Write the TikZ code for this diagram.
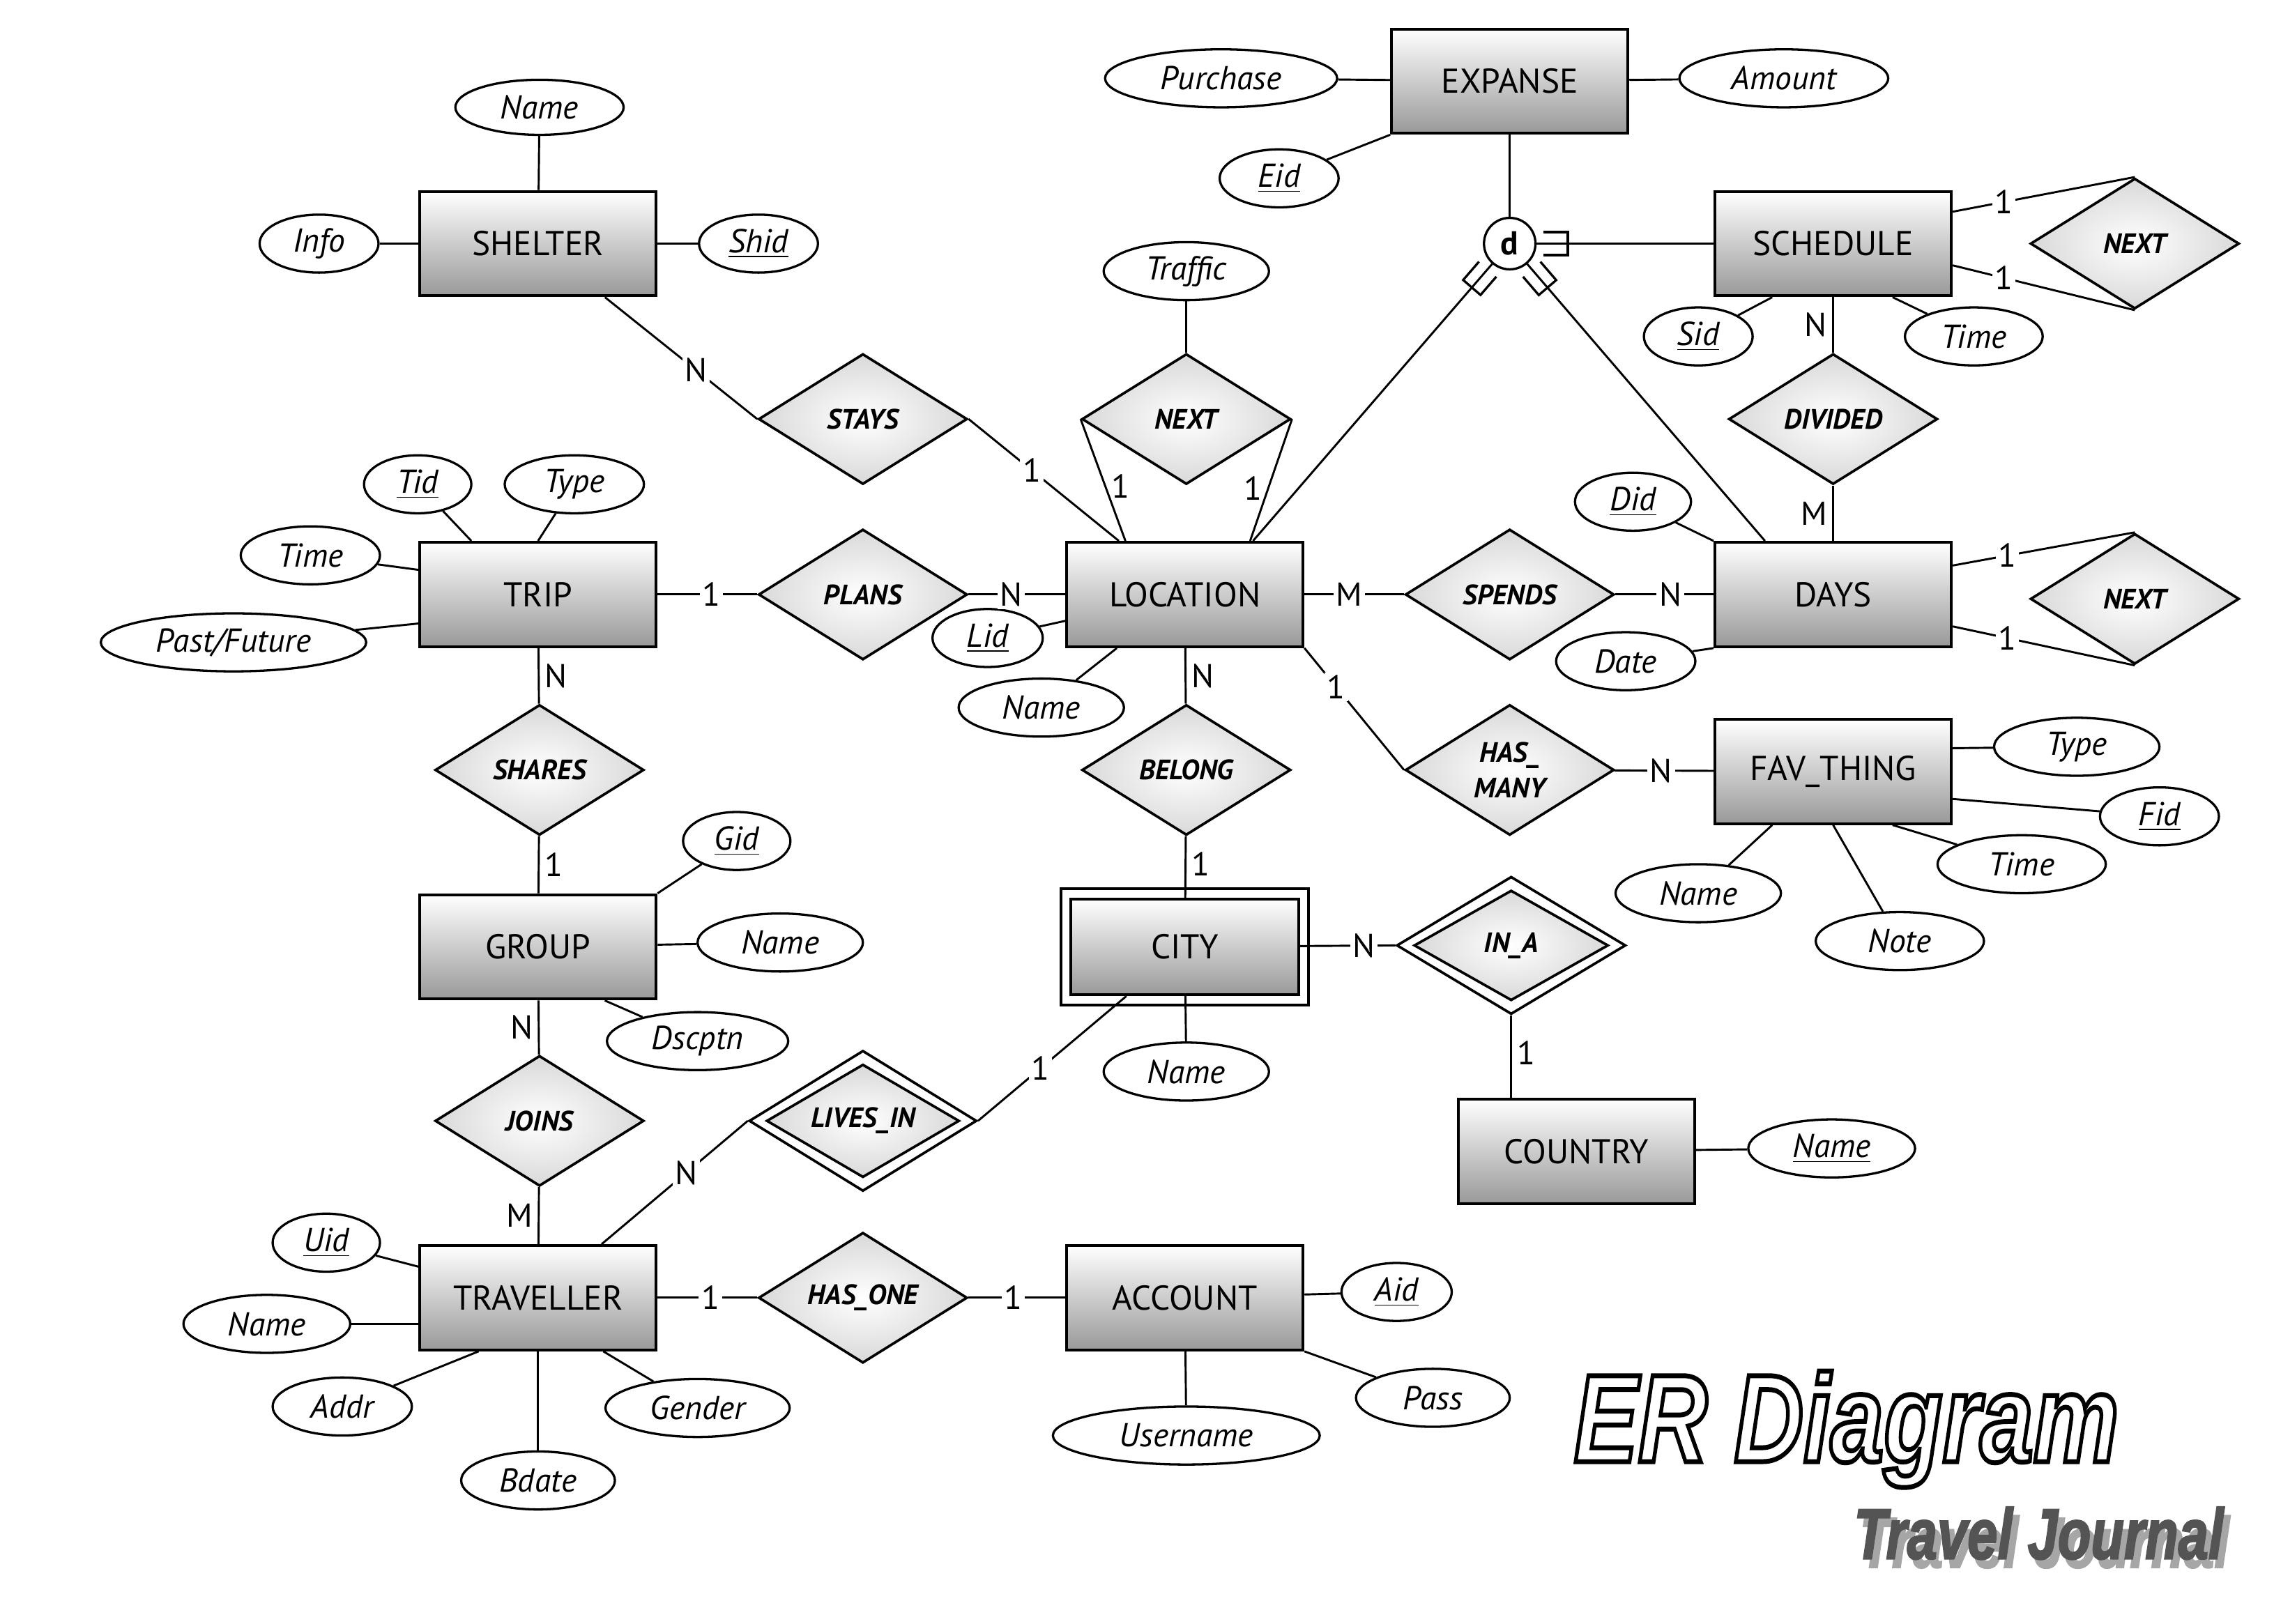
\documentclass[tikz,border=0pt]{standalone}
\usepackage{fontspec}
\setmainfont{PT Sans}
\newfontfamily\titlefont{Liberation Sans}
\usetikzlibrary{shapes.geometric,calc,decorations.markings}

% outlined text: white fill, black stroke
\newcommand{\outlined}[1]{{\color{white}\special{pdf:code q 2 Tr 1.9 w 0 G}#1\special{pdf:code Q}}}
% heavier text: stroke in the text colour
\newcommand{\heavy}[1]{\special{pdf:code q 2 Tr 0.7 w}#1\special{pdf:code Q}}

\tikzset{
  entity/.style={draw, line width=1.1pt, rectangle, top color=white, bottom color=black!40,
    minimum width=32.6mm, minimum height=14.4mm, inner sep=0pt, font=\fontsize{13.5}{16}\selectfont},
  rel/.style={draw, line width=1pt, diamond, aspect=1.6, inner color=white, outer color=black!15,
    minimum width=28.8mm, minimum height=18mm, inner sep=0pt, align=center,
    font=\fontsize{11}{14}\selectfont\bfseries\itshape},
  relout/.style={draw, line width=1pt, diamond, fill=white, inner sep=0pt},
  attr/.style={draw, line width=0.9pt, ellipse, fill=white, minimum height=8mm, inner sep=0pt,
    font=\fontsize{13}{15}\selectfont\itshape},
  card/.style={fill=white, inner sep=1pt, font=\fontsize{13}{15}\selectfont},
  cardside/.style={inner sep=2pt, font=\fontsize{13}{15}\selectfont},
  link/.style={line width=0.8pt},
  subset/.style={postaction={decorate, decoration={markings, mark=at position 2.7pt with
    {\draw[line width=0.9pt] (0pt,4.5pt) -- (9.5pt,4.5pt) -- (9.5pt,-4.5pt) -- (0pt,-4.5pt);}}}}
}

\begin{document}
\begin{tikzpicture}[x=0.2mm,y=-0.2mm]

\useasboundingbox (0,0) rectangle (1568,1120);

%% entities
\node[entity] (SHELTER) at (371,168) {SHELTER};
\node[entity] (TRIP) at (371,410) {TRIP};
\node[entity] (GROUP) at (371,653) {GROUP};
\node[entity] (TRAVELLER) at (371,895) {TRAVELLER};
\node[entity] (LOCATION) at (817,410) {LOCATION};
\node[entity, minimum width=31.4mm, minimum height=13.2mm] (CITY) at (817,653) {CITY};
\node[entity] (ACCOUNT) at (817,895) {ACCOUNT};
\node[entity] (COUNTRY) at (1087,794) {COUNTRY};
\node[entity] (EXPANSE) at (1041,56) {EXPANSE};
\node[entity] (SCHEDULE) at (1264,168) {SCHEDULE};
\node[entity] (DAYS) at (1264,410) {DAYS};
\node[entity] (FAVTHING) at (1264,532) {FAV\_THING};

%% weak entity frame
\draw[line width=1.1pt] ([shift={(-3.4pt,3.4pt)}]CITY.north west) rectangle ([shift={(3.4pt,-3.4pt)}]CITY.south east);

%% relationships
\node[rel] (STAYS) at (595,289) {STAYS};
\node[rel] (NEXTL) at (818,289) {NEXT};
\node[rel] (PLANS) at (595,410) {PLANS};
\node[rel] (SPENDS) at (1041,410) {SPENDS};
\node[rel] (SHARES) at (372,531) {SHARES};
\node[rel] (BELONG) at (818,531) {BELONG};
\node[rel] (HASMANY) at (1041,531) {HAS\_\\MANY};
\node[rel] (DIVIDED) at (1264,289) {DIVIDED};
\node[rel] (NEXTS) at (1472,168) {NEXT};
\node[rel] (NEXTD) at (1472,413) {NEXT};
\node[rel] (JOINS) at (372,773) {JOINS};
\node[rel] (HASONE) at (595,895) {HAS\_ONE};
\node[relout, minimum width=31.4mm, minimum height=19.4mm] (LIVESIN) at (595,773) {};
\node[rel, minimum width=26.6mm, minimum height=15.6mm] (LIVESINin) at (595,773) {LIVES\_IN};
\node[relout, minimum width=31.6mm, minimum height=19mm] (INA) at (1042,652) {};
\node[rel, minimum width=26.8mm, minimum height=15.2mm] (INAin) at (1042,652) {IN\_A};

%% disjoint specialisation
\node[draw, line width=0.9pt, circle, fill=white, minimum size=7.1mm, inner sep=0pt,
  font=\fontsize{13}{15}\selectfont\bfseries] (dsub) at (1041,168) {d};

%% attributes
\node[attr, minimum width=23.2mm, minimum height=7.6mm] (shName) at (372,74) {Name};
\node[attr, minimum width=16.4mm] (shInfo) at (220,168) {Info};
\node[attr, minimum width=16.4mm] (shShid) at (523,168) {\underline{Shid}};
\node[attr, minimum width=14.8mm] (trTid) at (288,334) {\underline{Tid}};
\node[attr, minimum width=19.2mm] (trType) at (396,334) {Type};
\node[attr, minimum width=19.2mm] (trTime) at (214,383) {Time};
\node[attr, minimum width=36.6mm] (trPast) at (161,443) {Past/Future};
\node[attr, minimum width=22.8mm] (loTraffic) at (818,187) {Traffic};
\node[attr, minimum width=32mm] (exPurchase) at (842,54) {Purchase};
\node[attr, minimum width=16.4mm] (exEid) at (882,123) {\underline{Eid}};
\node[attr, minimum width=28.8mm] (exAmount) at (1230,54) {Amount};
\node[attr, minimum width=15mm] (scSid) at (1171,232) {\underline{Sid}};
\node[attr, minimum width=19mm] (scTime) at (1361,232) {Time};
\node[attr, minimum width=16mm] (daDid) at (1126,346) {\underline{Did}};
\node[attr, minimum width=19.2mm] (daDate) at (1121,456) {Date};
\node[attr, minimum width=15.2mm] (loLid) at (681,440) {\underline{Lid}};
\node[attr, minimum width=22.8mm] (loName) at (718,488) {Name};
\node[attr, minimum width=22.8mm] (fvType) at (1432,515) {Type};
\node[attr, minimum width=16.4mm] (fvFid) at (1489,563) {\underline{Fid}};
\node[attr, minimum width=23.2mm] (fvTime) at (1394,596) {Time};
\node[attr, minimum width=22.8mm] (fvName) at (1171,616) {Name};
\node[attr, minimum width=23.2mm] (fvNote) at (1310,649) {Note};
\node[attr, minimum width=14.8mm] (grGid) at (508,580) {\underline{Gid}};
\node[attr, minimum width=22.8mm] (grName) at (538,650) {Name};
\node[attr, minimum width=25mm] (grDscptn) at (481,718) {Dscptn};
\node[attr, minimum width=22.8mm] (ciName) at (818,739) {Name};
\node[attr, minimum width=23mm] (coName) at (1263,792) {\underline{Name}};
\node[attr, minimum width=14.8mm] (tvUid) at (225,857) {\underline{Uid}};
\node[attr, minimum width=23mm] (tvName) at (184,913) {Name};
\node[attr, minimum width=19.2mm] (tvAddr) at (236,970) {Addr};
\node[attr, minimum width=21.2mm] (tvBdate) at (371,1021) {Bdate};
\node[attr, minimum width=25.4mm] (tvGender) at (481,971) {Gender};
\node[attr, minimum width=15.2mm] (acAid) at (963,891) {\underline{Aid}};
\node[attr, minimum width=21.2mm] (acPass) at (988,964) {Pass};
\node[attr, minimum width=36.8mm] (acUsername) at (818,990) {Username};

%% attribute links
\draw[link] (shName) -- (SHELTER);
\draw[link] (shInfo) -- (SHELTER);
\draw[link] (shShid) -- (SHELTER);
\draw[link] (trTid) -- ($(TRIP.north)+(-46,0)$);
\draw[link] (trType) -- (TRIP.north);
\draw[link] (trTime) -- ($(TRIP.west)+(0,-17)$);
\draw[link] (trPast) -- ($(TRIP.west)+(0,20)$);
\draw[link] (loTraffic) -- (NEXTL.north);
\draw[link] (exPurchase) -- (EXPANSE);
\draw[link] (exEid) -- (EXPANSE.south west);
\draw[link] (exAmount) -- (EXPANSE);
\draw[link] (scSid) -- ($(SCHEDULE.south)+(-42,0)$);
\draw[link] (scTime) -- ($(SCHEDULE.south)+(41,0)$);
\draw[link] (daDid) -- (DAYS.north west);
\draw[link] (daDate) -- (DAYS.south west);
\draw[link] (loLid) -- (LOCATION);
\draw[link] (loName) -- (LOCATION);
\draw[link] (fvType) -- ($(FAVTHING.east)+(0,-16)$);
\draw[link] (fvFid) -- ($(FAVTHING.east)+(0,19)$);
\draw[link] (fvTime) -- ($(FAVTHING.south)+(41,0)$);
\draw[link] (fvName) -- ($(FAVTHING.south)+(-42,0)$);
\draw[link] (fvNote) -- (FAVTHING.south);
\draw[link] (grGid) -- (GROUP.north east);
\draw[link] (grName) -- (GROUP);
\draw[link] (grDscptn) -- ($(GROUP.south)+(46,0)$);
\draw[link] (ciName) -- (CITY);
\draw[link] (coName) -- (COUNTRY);
\draw[link] (tvUid) -- (TRAVELLER);
\draw[link] (tvName) -- ($(TRAVELLER.west)+(0,18)$);
\draw[link] (tvAddr) -- ($(TRAVELLER.south)+(-41,0)$);
\draw[link] (tvBdate) -- (TRAVELLER);
\draw[link] (tvGender) -- ($(TRAVELLER.south)+(45,0)$);
\draw[link] (acAid) -- (ACCOUNT);
\draw[link] (acPass) -- (ACCOUNT.south east);
\draw[link] (acUsername) -- (ACCOUNT);

%% relationship links
\draw[link] (SHELTER) -- (STAYS.west) node[card, pos=.6] {N};
\draw[link] (STAYS.east) -- (LOCATION) node[card, pos=.42] {1};
\draw[link] (NEXTL.west) -- ($(LOCATION.north)+(-41,0)$) node[cardside, right, pos=.55] {1};
\draw[link] (NEXTL.east) -- ($(LOCATION.north)+(45,0)$) node[cardside, left, pos=.57] {1};
\draw[link] (TRIP) -- (PLANS) node[card, pos=.54] {1};
\draw[link] (PLANS) -- (LOCATION) node[card, pos=.44] {N};
\draw[link] (TRIP) -- (SHARES) node[cardside, right, pos=.5] {N};
\draw[link] (SHARES) -- (GROUP) node[cardside, right, pos=.5] {1};
\draw[link] (GROUP) -- (JOINS) node[cardside, left, pos=.5] {N};
\draw[link] (JOINS) -- (TRAVELLER) node[cardside, left, pos=.5] {M};
\draw[link] (TRAVELLER) -- (LIVESIN.west) node[card, pos=.58] {N};
\draw[link] (LIVESIN.east) -- (CITY) node[card, pos=.42] {1};
\draw[link] (TRAVELLER) -- (HASONE) node[card, pos=.53] {1};
\draw[link] (HASONE) -- (ACCOUNT) node[card, pos=.46] {1};
\draw[link] (LOCATION) -- (BELONG) node[cardside, right, pos=.5] {N};
\draw[link] (BELONG) -- (CITY) node[cardside, right, pos=.45] {1};
\draw[link] (LOCATION) -- (SPENDS) node[card, pos=.45] {M};
\draw[link] (SPENDS) -- (DAYS) node[card, pos=.56] {N};
\draw[link] (LOCATION.south east) -- (HASMANY.west) node[card, pos=.32] {1};
\draw[link] (HASMANY) -- (FAVTHING) node[card, pos=.47] {N};
\draw[link] (CITY) -- (INA.west) node[card, pos=.67] {N};
\draw[link] (INA.south) -- (INA.south |- COUNTRY.north) node[cardside, right, pos=.45] {1};
\draw[link] (SCHEDULE) -- (DIVIDED) node[cardside, left, pos=.5] {N};
\draw[link] (DIVIDED) -- (DAYS) node[cardside, left, pos=.5] {M};
\draw[link] ($(SCHEDULE.east)+(0,-22)$) -- (NEXTS.north) node[card, pos=.28] {1};
\draw[link] ($(SCHEDULE.east)+(0,15)$) -- (NEXTS.south) node[card, pos=.28] {1};
\draw[link] ($(DAYS.east)+(0,-20)$) -- (NEXTD.north) node[card, pos=.3] {1};
\draw[link] ($(DAYS.east)+(0,22)$) -- (NEXTD.south) node[card, pos=.3] {1};

%% specialisation links
\draw[link] (EXPANSE) -- (dsub);
\draw[link, subset] (dsub) -- (SCHEDULE);
\draw[link, subset] (dsub) -- ($(LOCATION.north)+(47,0)$);
\draw[link, subset] (dsub) -- ($(DAYS.north)+(-47,0)$);

%% title
\node[anchor=base west, xscale=0.77, inner sep=0pt] (title) at (1085,1008)
  {\titlefont\bfseries\itshape\fontsize{49}{50}\selectfont\outlined{ER Diagram}};
\node[anchor=base west, xscale=0.76, inner sep=0pt, text=black!35] (subshadow) at (1282,1081)
  {\titlefont\bfseries\itshape\fontsize{28}{30}\selectfont\heavy{Travel Journal}};
\node[anchor=base west, xscale=0.76, inner sep=0pt, text=black!67] (subtitle) at (1278,1075)
  {\titlefont\bfseries\itshape\fontsize{28}{30}\selectfont\heavy{Travel Journal}};

\end{tikzpicture}
\end{document}
